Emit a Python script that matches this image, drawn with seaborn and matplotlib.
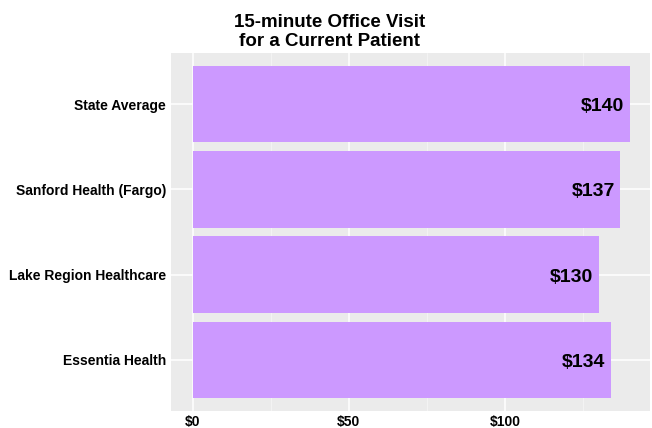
import matplotlib
matplotlib.use("Agg")
import matplotlib.pyplot as plt
import pandas as pd
import seaborn as sns

# values
providers = ["State Average", "Sanford Health (Fargo)", "Lake Region Healthcare", "Essentia Health"]
prices = [140, 137, 130, 134]
price_labels = ["$140", "$137", "$130", "$134"]
x_ticks = [0, 50, 100]
x_tick_labels = ["$0", "$50", "$100"]

df = pd.DataFrame({"provider": providers, "price": prices})

sns.set_theme(style="darkgrid")
plt.rcParams["font.family"] = ["Liberation Sans", "DejaVu Sans"]

fig = plt.figure(figsize=(6.52, 4.28), dpi=100)
ax = fig.add_axes([171 / 652, 1 - 411 / 428, (650 - 171) / 652, (411 - 53) / 428])
ax.set_facecolor("#EBEBEB")

sns.barplot(data=df, x="price", y="provider", color="#CC99FF", saturation=1,
            width=0.9, ax=ax, orient="h", edgecolor="none", linewidth=0)

for i, (v, lab) in enumerate(zip(prices, price_labels)):
    ax.text(v - 1.8, i + 0.03, lab, ha="right", va="center", fontsize=14,
            fontweight="bold", color="black")

ax.set_xlim(-7, 146.5)
ax.set_ylim(3.6, -0.6)
ax.set_xticks(x_ticks)
ax.set_xticklabels(x_tick_labels, fontweight="bold", fontsize=10, color="black")
ax.set_xticks([25, 75, 125], minor=True)
for lbl in ax.get_yticklabels():
    lbl.set_fontweight("bold")
    lbl.set_fontsize(10)
    lbl.set_color("black")
ax.grid(which="major", color="white", linewidth=1.1)
ax.grid(which="minor", color="#F5F5F5", linewidth=0.6)
ax.set_axisbelow(True)
ax.tick_params(axis="x", which="major", length=2.5, color="#333333", pad=0.5)
ax.tick_params(axis="y", which="major", length=2.5, color="#333333", pad=1)
ax.tick_params(axis="both", which="minor", length=0)
ax.set_xlabel("")
ax.set_ylabel("")
for s in ax.spines.values():
    s.set_visible(False)

fig.suptitle("15-minute Office Visit\nfor a Current Patient", x=0.505, y=0.968,
             fontsize=13.5, fontweight="bold", linespacing=1.2, color="black")

fig.savefig("out.png", dpi=100)
